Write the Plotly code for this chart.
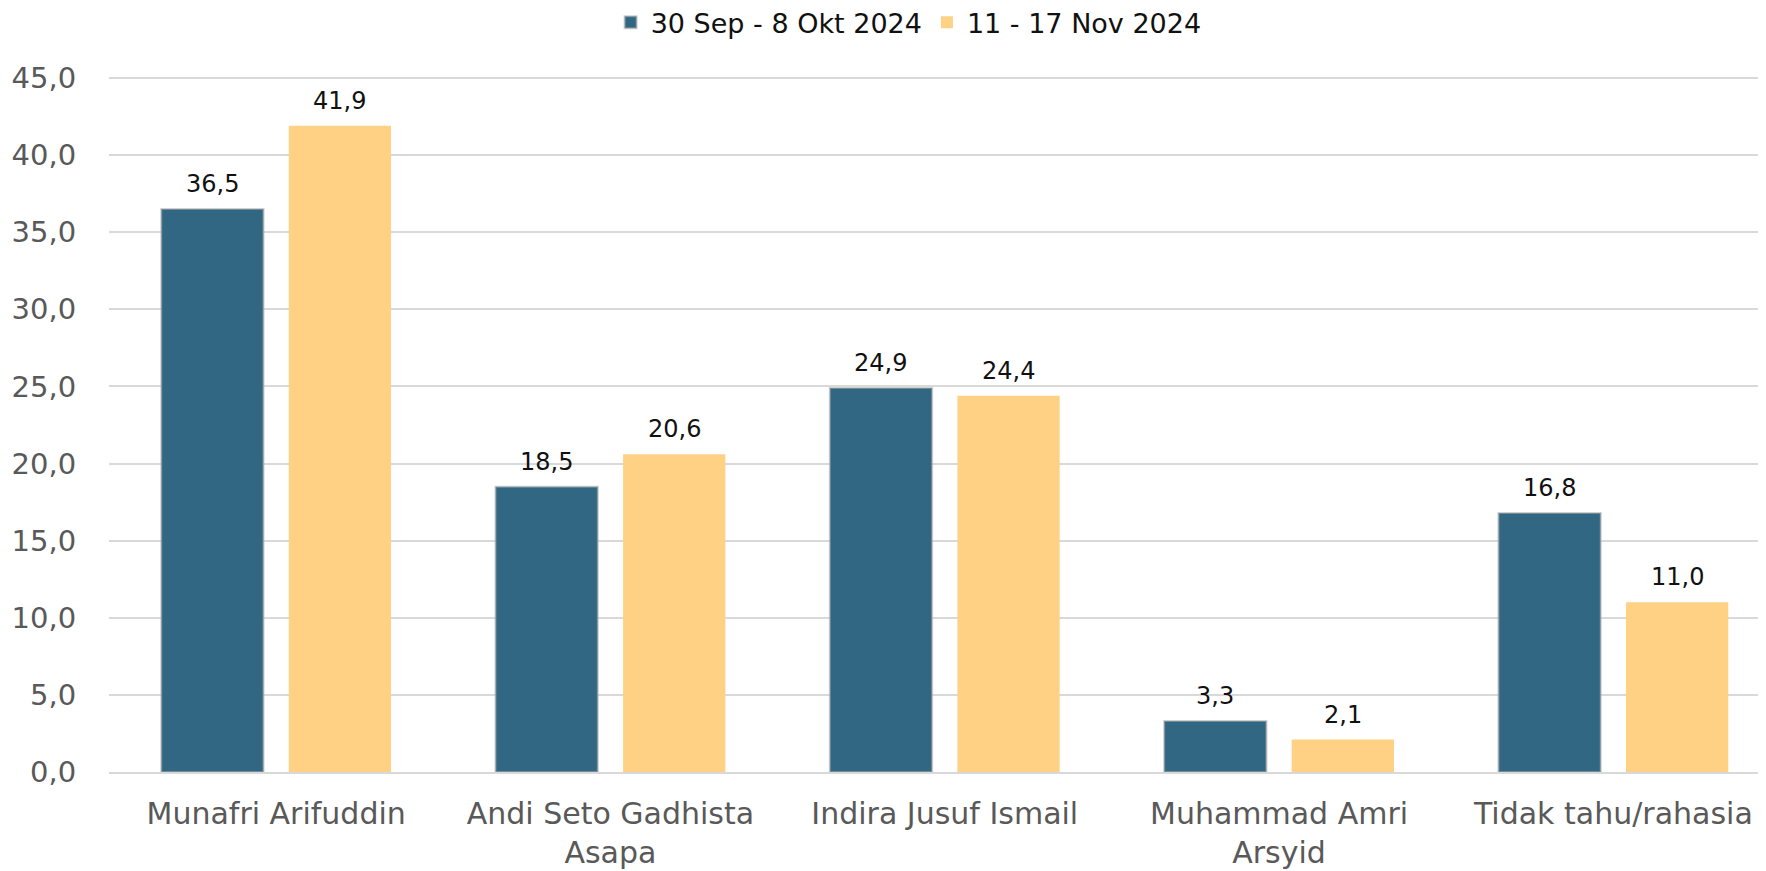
import plotly.graph_objects as go

categories = ["Munafri Arifuddin", "Andi Seto Gadhista<br>Asapa", "Indira Jusuf Ismail",
              "Muhammad Amri<br>Arsyid", "Tidak tahu/rahasia"]
series1_name = "30 Sep - 8 Okt 2024"
series1 = [36.5, 18.5, 24.9, 3.3, 16.8]
series2_name = "11 - 17 Nov 2024"
series2 = [41.9, 20.6, 24.4, 2.1, 11.0]
y_ticks = [0, 5, 10, 15, 20, 25, 30, 35, 40, 45]

FONT = "'DejaVu Sans', sans-serif"
BARGAP = 0.237
BARGROUPGAP = 0.198
X_RANGE = [-0.5, 4.4566]
Y_RANGE = [0, 45.26]
# the page body adds an 8px offset; margins compensate for it
ML, MR, MT, MB = 101, 8, 66, 107
W, H = 1766, 871

fig = go.Figure()
fig.add_trace(go.Bar(
    name=series1_name, x=categories, y=series1,
    marker=dict(color="#326784", line=dict(color="rgba(170,170,170,0.55)", width=2)),
))
fig.add_trace(go.Bar(
    name=series2_name, x=categories, y=series2,
    marker=dict(color="#FED185", line=dict(width=0)),
))

# data labels above bars, offset to each bar's slot within the group
cat_px = (W - ML - MR) / (X_RANGE[1] - X_RANGE[0])
slot = (1 - BARGAP) * cat_px / 2
for vals, shift in ((series1, -slot / 2), (series2, slot / 2)):
    for c, v in zip(categories, vals):
        fig.add_annotation(x=c, y=v, xref="x", yref="y", text=f"{v:.1f}".replace(".", ","),
                           showarrow=False, xshift=shift, yshift=9, yanchor="bottom",
                           font=dict(size=24, color="#111111", family=FONT))

fig.update_layout(
    width=W, height=H,
    margin=dict(l=ML, r=MR, t=MT, b=MB, autoexpand=False),
    paper_bgcolor="white", plot_bgcolor="white",
    separators=",.",
    barmode="group", bargap=BARGAP, bargroupgap=BARGROUPGAP,
    font=dict(family=FONT, color="#595959"),
    legend=dict(orientation="h", x=0.51, xanchor="center", xref="container",
                y=0.983, yanchor="middle", yref="container",
                font=dict(size=27, color="#111111", family=FONT),
                traceorder="normal", itemwidth=30),
    xaxis=dict(range=X_RANGE, showgrid=False, showline=True, linecolor="#D9D9D9",
               linewidth=2, tickfont=dict(size=30, color="#595959", family=FONT),
               ticks="outside", ticklen=14, tickcolor="rgba(0,0,0,0)"),
    yaxis=dict(range=Y_RANGE, tickvals=y_ticks, tickformat=".1f", showgrid=True,
               gridcolor="#D9D9D9", gridwidth=2, zeroline=False, showline=False,
               tickfont=dict(size=29, color="#595959", family=FONT),
               ticks="outside", ticklen=26, tickcolor="rgba(0,0,0,0)"),
)

fig.write_html("out.html")
